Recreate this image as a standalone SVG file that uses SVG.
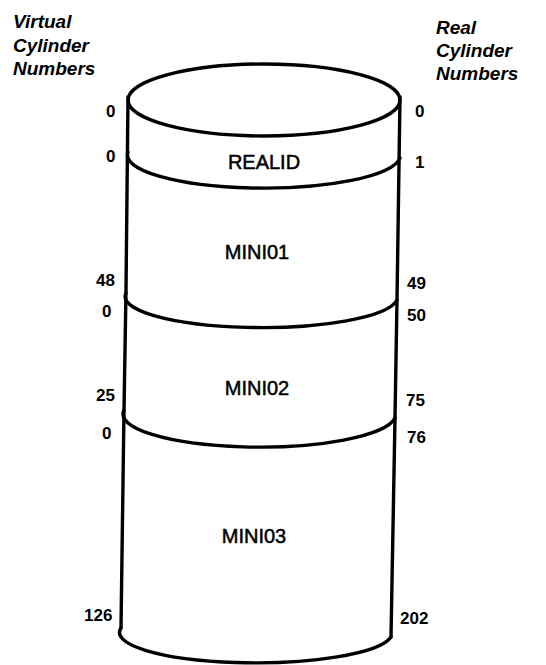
<svg xmlns="http://www.w3.org/2000/svg" width="546" height="665" viewBox="0 0 546 665">
<style>
.ln{fill:none;stroke:#000;stroke-width:3.4;stroke-linecap:round;stroke-linejoin:round}
.hd{font-family:"Liberation Sans",Arial,sans-serif;font-style:italic;font-weight:bold;font-size:19px;fill:#000}
.num{font-family:"Liberation Sans",Arial,sans-serif;font-weight:bold;font-size:17px;fill:#000}
.lbl{font-family:"Liberation Sans",Arial,sans-serif;font-size:20px;fill:#000;stroke:#000;stroke-width:0.5;text-anchor:middle}
</style>
<rect width="546" height="665" fill="#fff"/>
<g id="headers">
<text class="hd" x="13" y="28">Virtual</text>
<text class="hd" x="13" y="52">Cylinder</text>
<text class="hd" x="13" y="75">Numbers</text>
<text class="hd" x="436" y="34">Real</text>
<text class="hd" x="436" y="57">Cylinder</text>
<text class="hd" x="436" y="80">Numbers</text>
</g>
<g id="cylinder-outline">
<ellipse class="ln" cx="264" cy="100" rx="136" ry="36"/>
<path class="ln" d="M128,97 L126,290 L124,410 L121,628"/>
<path class="ln" d="M400,97 L397,300 L395,418 L391,637"/>
<path class="ln" d="M121,628 A135,30 0 0 0 391,637"/>
</g>
<g id="REALID">
<path class="ln" d="M128,152 A136,33 0 0 0 400,158"/>
<text class="lbl" x="264" y="169">REALID</text>
<text class="num" x="106" y="117">0</text>
<text class="num" x="415" y="117">0</text>
<text class="num" x="106" y="162">0</text>
<text class="num" x="415" y="168">1</text>
</g>
<g id="MINI01">
<path class="ln" d="M126,293 A136,31 0 0 0 397,300"/>
<text class="lbl" x="257" y="259">MINI01</text>
<text class="num" x="96" y="286">48</text>
<text class="num" x="407" y="289">49</text>
</g>
<g id="MINI02">
<path class="ln" d="M124,410 A136,33 0 0 0 395,418"/>
<text class="lbl" x="257" y="395">MINI02</text>
<text class="num" x="102" y="317">0</text>
<text class="num" x="407" y="321">50</text>
<text class="num" x="96" y="401">25</text>
<text class="num" x="406" y="406">75</text>
</g>
<g id="MINI03">
<text class="lbl" x="254" y="543">MINI03</text>
<text class="num" x="102" y="439">0</text>
<text class="num" x="407" y="443">76</text>
<text class="num" x="84" y="621">126</text>
<text class="num" x="400" y="624">202</text>
</g>
</svg>
